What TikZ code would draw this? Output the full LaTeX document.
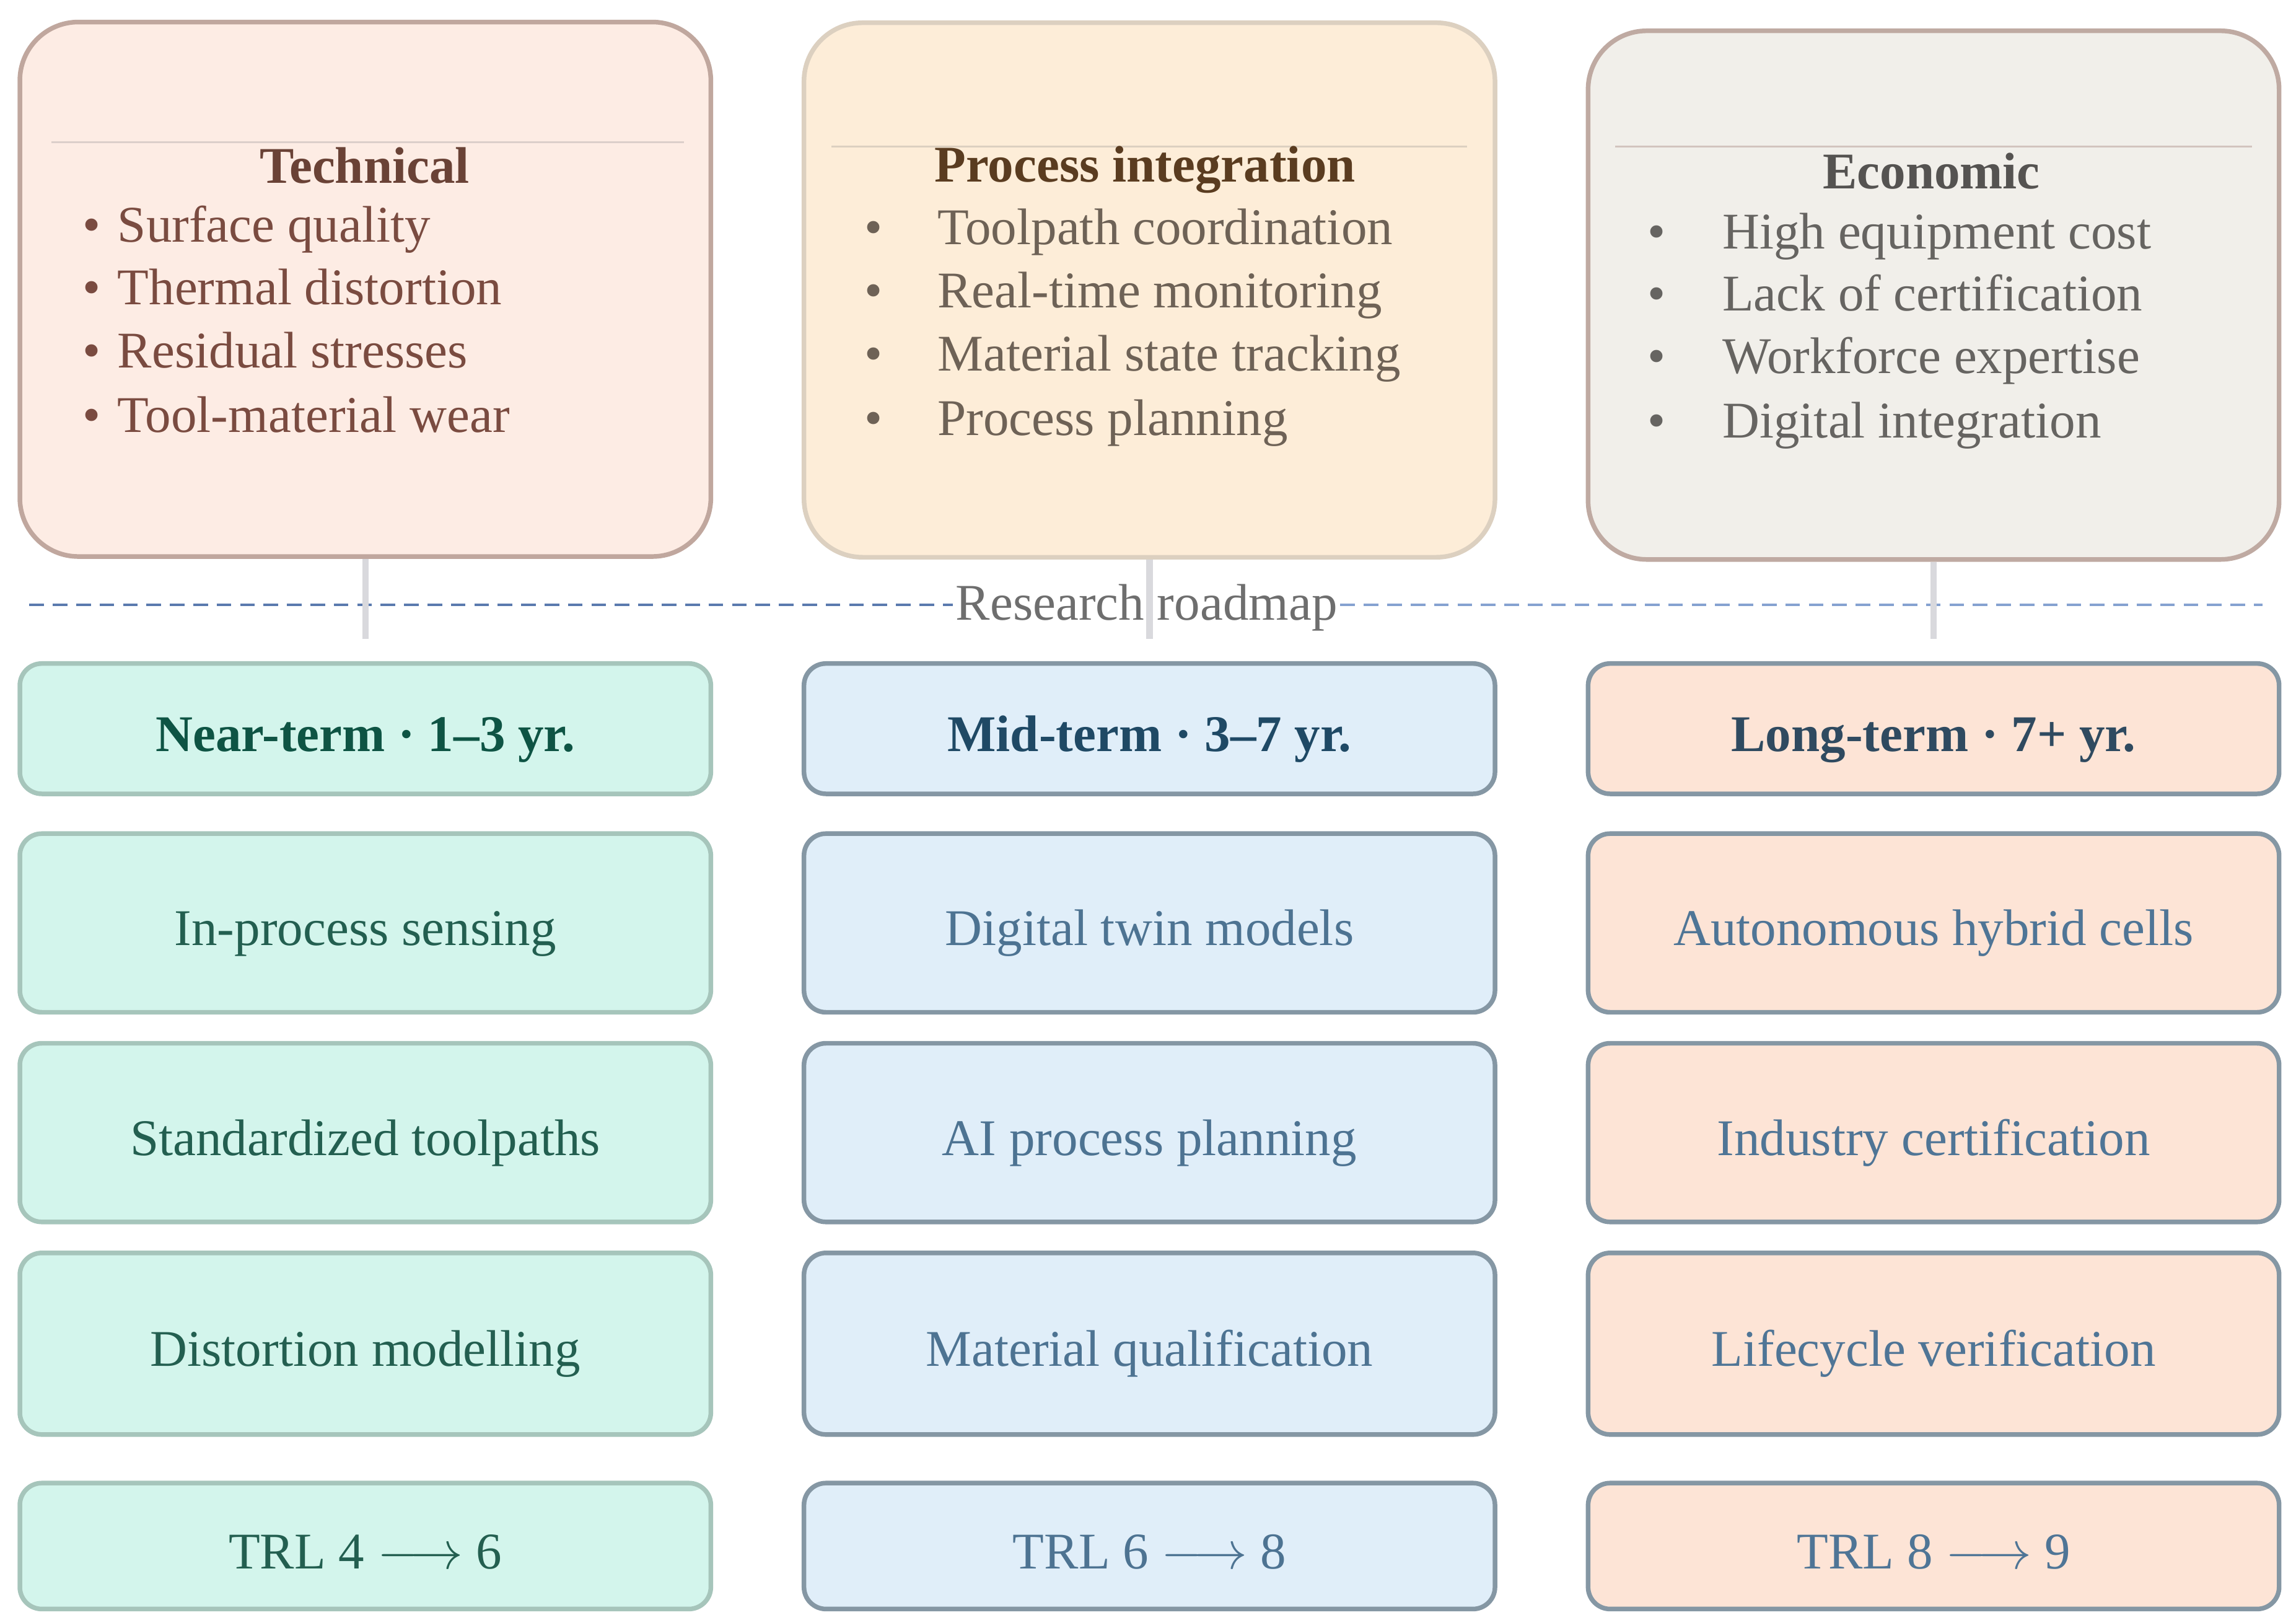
\documentclass[tikz,border=0pt]{standalone}
\usepackage{fontspec}
\setmainfont{Liberation Serif}
\usepackage{tikz}
\usetikzlibrary{positioning}
\definecolor{techFill}{HTML}{FDECE4}
\definecolor{techLine}{HTML}{C0A79E}
\definecolor{techText}{HTML}{7A4B40}
\definecolor{techTitle}{HTML}{6A4236}
\definecolor{procFill}{HTML}{FDEDD8}
\definecolor{procLine}{HTML}{DCD0C0}
\definecolor{procText}{HTML}{6E6256}
\definecolor{procTitle}{HTML}{5A3C20}
\definecolor{econFill}{HTML}{F1EFEA}
\definecolor{econLine}{HTML}{BFAAA2}
\definecolor{econText}{HTML}{666461}
\definecolor{econTitle}{HTML}{555351}
\definecolor{nearFill}{HTML}{D3F5EC}
\definecolor{nearLine}{HTML}{A6C5BB}
\definecolor{nearText}{HTML}{235F50}
\definecolor{nearTitle}{HTML}{0E5444}
\definecolor{midFill}{HTML}{E0EEF9}
\definecolor{slateLine}{HTML}{8597A4}
\definecolor{midText}{HTML}{4D7392}
\definecolor{midTitle}{HTML}{1F4965}
\definecolor{longFill}{HTML}{FDE4D6}
\definecolor{longText}{HTML}{4F7596}
\definecolor{longTitle}{HTML}{2F4A60}
\definecolor{stubGray}{HTML}{D9D9DD}
\definecolor{roadBlue}{HTML}{5A7AAE}
\definecolor{roadLight}{HTML}{85A2D0}
\definecolor{roadText}{HTML}{6E6E6E}

\tikzset{
  bigText/.style={font=\fontsize{20}{24}\selectfont},
  titleText/.style={font=\fontsize{20}{24}\selectfont\bfseries},
  groupBox/.style={rounded corners=0.8cm, line width=1.8pt, minimum width=9.44cm, minimum height=7.3cm},
  itemText/.style={bigText, anchor=mid west, inner sep=0pt},
  termBox/.style={rounded corners=0.3cm, line width=1.8pt, minimum width=9.44cm, minimum height=2.44cm, text height=0.62cm, text depth=0pt, bigText},
  nearCell/.style={termBox, draw=nearLine, fill=nearFill, text=nearText},
  midCell/.style={termBox, draw=slateLine, fill=midFill, text=midText},
  longCell/.style={termBox, draw=slateLine, fill=longFill, text=longText},
  headCell/.style={minimum height=1.78cm, titleText},
  trlCell/.style={minimum height=1.72cm},
  stubLine/.style={stubGray, line width=2.5pt},
  roadDash/.style={line width=1.1pt, dash pattern=on 0.2cm off 0.12cm}
}

\begin{document}
\begin{tikzpicture}[x=0.02cm, y=-0.02cm]
  \useasboundingbox (0,0) rectangle (1568,1108);

  % Challenge groups
  \node[groupBox, draw=techLine, fill=techFill] (techBox) at (249.5,197.5) {};
  \node[groupBox, draw=procLine, fill=procFill] (procBox) at (785,198) {};
  \node[groupBox, draw=econLine, fill=econFill, minimum height=7.22cm] (econBox) at (1320.5,201.5) {};

  % Rules above the group titles
  \draw[techLine!55, line width=0.6pt] (35,97) -- (467,97);
  \draw[procLine, line width=0.6pt] (568,100) -- (1002,100);
  \draw[econLine!70, line width=0.6pt] (1103,100) -- (1538,100);

  % Technical
  \node[titleText, text=techTitle] (techHead) at (249,113) {Technical};
  \node[itemText, text=techText] (techA) at (56,161) {\makebox[0.48cm][l]{\textbullet}Surface quality};
  \node[itemText, text=techText] (techB) at (56,204) {\makebox[0.48cm][l]{\textbullet}Thermal distortion};
  \node[itemText, text=techText] (techC) at (56,247) {\makebox[0.48cm][l]{\textbullet}Residual stresses};
  \node[itemText, text=techText] (techD) at (56,291) {\makebox[0.48cm][l]{\textbullet}Tool-material wear};

  % Process integration
  \node[titleText, text=procTitle] (procHead) at (782,116) {Process integration};
  \node[itemText, text=procText] (procA) at (590,163) {\makebox[1.0cm][l]{\textbullet}Toolpath coordination};
  \node[itemText, text=procText] (procB) at (590,206) {\makebox[1.0cm][l]{\textbullet}Real-time monitoring};
  \node[itemText, text=procText] (procC) at (590,249) {\makebox[1.0cm][l]{\textbullet}Material state tracking};
  \node[itemText, text=procText] (procD) at (590,293) {\makebox[1.0cm][l]{\textbullet}Process planning};

  % Economic
  \node[titleText, text=econTitle] (econHead) at (1319,117) {Economic};
  \node[itemText, text=econText] (econA) at (1125,166) {\makebox[1.02cm][l]{\textbullet}High equipment cost};
  \node[itemText, text=econText] (econB) at (1125,208) {\makebox[1.02cm][l]{\textbullet}Lack of certification};
  \node[itemText, text=econText] (econC) at (1125,251) {\makebox[1.02cm][l]{\textbullet}Workforce expertise};
  \node[itemText, text=econText] (econD) at (1125,295) {\makebox[1.02cm][l]{\textbullet}Digital integration};

  % Roadmap divider
  \node[bigText, text=roadText, inner sep=1pt] (roadLabel) at (783,415) {Research roadmap};
  \coordinate (roadStart) at (20,413);
  \coordinate (roadEnd) at (1545,413);
  \draw[roadDash, roadBlue] (roadStart) -- (roadLabel.west |- roadStart);
  \draw[roadDash, roadLight] (roadLabel.east |- roadEnd) -- (roadEnd);

  % Stubs from the groups
  \coordinate (techFoot) at (249.5,436);
  \coordinate (procFoot) at (785,436);
  \coordinate (econFoot) at (1320.5,436);
  \draw[stubLine] (techBox.south) -- (techFoot);
  \draw[stubLine] (procBox.south) -- (procFoot);
  \draw[stubLine] (econBox.south) -- (econFoot);

  % Near-term column
  \node[nearCell, headCell, text=nearTitle] (nearHead) at (249.5,497.5) {Near-term · 1--3 yr.};
  \node[nearCell, below=0.48cm of nearHead] (nearSense) {In-process sensing};
  \node[nearCell, below=0.36cm of nearSense] (nearPath) {Standardized toolpaths};
  \node[nearCell, below=0.36cm of nearPath, minimum height=2.48cm] (nearModel) {Distortion modelling};
  \node[nearCell, trlCell, below=0.6cm of nearModel] (nearTrl) {TRL 4 $\longrightarrow$ 6};

  % Mid-term column
  \node[midCell, headCell, text=midTitle] (midHead) at (785,497.5) {Mid-term · 3--7 yr.};
  \node[midCell, below=0.48cm of midHead] (midTwin) {Digital twin models};
  \node[midCell, below=0.36cm of midTwin] (midPlan) {AI process planning};
  \node[midCell, below=0.36cm of midPlan, minimum height=2.48cm] (midQual) {Material qualification};
  \node[midCell, trlCell, below=0.6cm of midQual] (midTrl) {TRL 6 $\longrightarrow$ 8};

  % Long-term column
  \node[longCell, headCell, text=longTitle] (longHead) at (1320.5,497.5) {Long-term · 7+ yr.};
  \node[longCell, below=0.48cm of longHead] (longCells) {Autonomous hybrid cells};
  \node[longCell, below=0.36cm of longCells] (longCert) {Industry certification};
  \node[longCell, below=0.36cm of longCert, minimum height=2.48cm] (longLife) {Lifecycle verification};
  \node[longCell, trlCell, below=0.6cm of longLife] (longTrl) {TRL 8 $\longrightarrow$ 9};
\end{tikzpicture}
\end{document}
